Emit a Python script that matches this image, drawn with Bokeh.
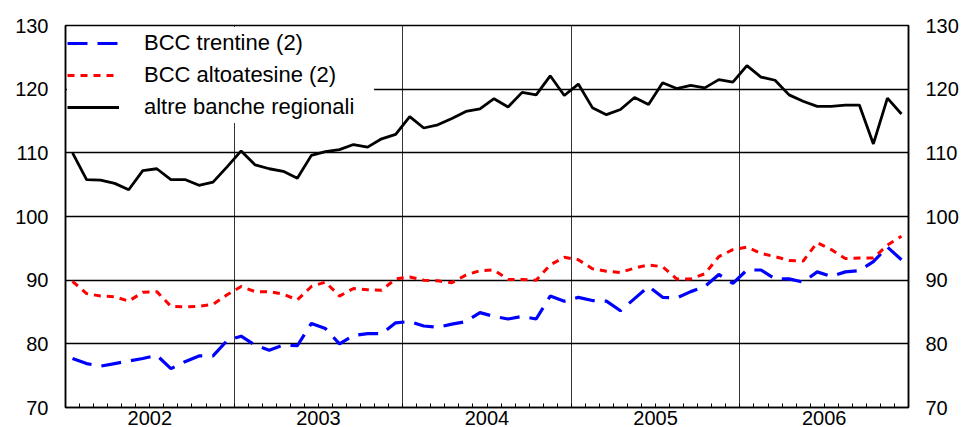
import numpy as np
from bokeh.plotting import figure
from bokeh.models import LinearAxis, FixedTicker, Legend, LegendItem, Range1d
from bokeh.embed import file_html
from bokeh.resources import INLINE

years = ["2002", "2003", "2004", "2005", "2006"]
y_ticks = [70, 80, 90, 100, 110, 120, 130]

bcc_trentine = [77.7, 76.9, 76.5, 76.9, 77.3, 77.7, 78.2, 76.1, 77.2, 78.1, 78.1, 80.5,
                81.2, 79.8, 79.0, 79.8, 79.7, 83.2, 82.4, 80.0, 81.3, 81.6, 81.6, 83.3,
                83.5, 82.8, 82.6, 83.1, 83.5, 84.9, 84.3, 83.9, 84.3, 83.9, 87.5, 86.7,
                87.3, 86.8, 86.7, 85.2, 87.1, 89.0, 87.3, 87.2, 88.2, 89.0, 90.9, 89.5,
                91.6, 91.6, 90.2, 90.2, 89.7, 91.3, 90.6, 91.3, 91.5, 92.9, 95.2, 93.2]

bcc_altoatesine = [89.8, 87.9, 87.5, 87.4, 86.7, 88.1, 88.2, 85.9, 85.8, 85.9, 86.2, 87.7,
                   89.0, 88.2, 88.2, 87.8, 86.9, 89.0, 89.7, 87.5, 88.7, 88.5, 88.4, 90.2,
                   90.5, 90.0, 89.9, 89.6, 90.8, 91.5, 91.6, 90.1, 90.1, 90.0, 92.4, 93.6,
                   93.2, 91.8, 91.4, 91.2, 91.9, 92.4, 92.1, 90.2, 90.2, 91.0, 93.7, 94.8,
                   95.2, 94.2, 93.7, 93.1, 93.0, 95.9, 94.8, 93.4, 93.5, 93.5, 95.5, 96.9]

altre_banche = [110.0, 105.8, 105.7, 105.2, 104.2, 107.2, 107.5, 105.8, 105.8, 104.9, 105.4, 107.8,
                110.3, 108.1, 107.5, 107.1, 106.0, 109.6, 110.2, 110.5, 111.3, 110.9, 112.2, 112.9,
                115.7, 113.9, 114.4, 115.4, 116.5, 116.9, 118.5, 117.2, 119.5, 119.1, 122.1, 119.0,
                120.8, 117.1, 116.0, 116.8, 118.7, 117.6, 121.0, 120.1, 120.6, 120.2, 121.5, 121.1,
                123.7, 121.9, 121.4, 119.1, 118.1, 117.3, 117.3, 117.5, 117.5, 111.4, 118.6, 116.1]

n_months = len(altre_banche)
x = np.arange(n_months) + 0.5  # mid-month positions

FONT = "Liberation Sans"

p = figure(width=967, height=427, x_range=Range1d(0, n_months), y_range=Range1d(70, 130),
           output_backend="svg", toolbar_location=None,
           min_border_left=65, min_border_right=59, min_border_top=25, min_border_bottom=0,
           background_fill_color="white", border_fill_color="white")

p.outline_line_color = "black"
p.outline_line_width = 1.5

# x axis: year labels centred on each year, monthly minor ticks
year_centres = [12 * i + 6 for i in range(len(years))]
xa = p.xaxis[0]
xa.ticker = FixedTicker(ticks=year_centres, minor_ticks=list(range(0, n_months + 1)))
xa.major_label_overrides = {c: y for c, y in zip(year_centres, years)}
xa.major_tick_in = 0
xa.major_tick_out = 0
xa.minor_tick_in = 4
xa.minor_tick_out = 0
xa.minor_tick_line_color = "black"
xa.axis_line_color = "black"
xa.axis_line_width = 1.5
xa.major_label_standoff = 3
xa.major_label_text_font = FONT
xa.major_label_text_font_size = "20px"
xa.major_label_text_color = "black"

# y axes
ya = p.yaxis[0]
ya.ticker = FixedTicker(ticks=y_ticks)
ya.major_tick_in = 4
ya.major_tick_out = 0
ya.minor_tick_line_color = None
ya.axis_line_color = "black"
ya.axis_line_width = 1.5
ya.major_label_standoff = 17
ya.major_label_text_font = FONT
ya.major_label_text_font_size = "20px"
ya.major_label_text_color = "black"

ra = LinearAxis(ticker=FixedTicker(ticks=y_ticks))
ra.major_tick_in = 0
ra.major_tick_out = 0
ra.minor_tick_line_color = None
ra.axis_line_color = "black"
ra.axis_line_width = 1.5
ra.major_label_standoff = 17
ra.major_label_text_font = FONT
ra.major_label_text_font_size = "20px"
ra.major_label_text_color = "black"
p.add_layout(ra, "right")

# grids
p.ygrid.ticker = FixedTicker(ticks=[80, 90, 100, 110, 120])
p.ygrid.grid_line_color = "black"
p.ygrid.grid_line_width = 1.3
p.xgrid.ticker = FixedTicker(ticks=[12, 24, 36, 48])
p.xgrid.grid_line_color = "#333333"
p.xgrid.grid_line_width = 1

r_tn = p.line(x, bcc_trentine, line_color="#0000FF", line_width=3.2, line_dash="20 10")
r_aa = p.line(x, bcc_altoatesine, line_color="#FF0000", line_width=3, line_dash="7 6")
r_ab = p.line(x, altre_banche, line_color="black", line_width=2.8)

legend = Legend(items=[LegendItem(label="BCC trentine (2)", renderers=[r_tn]),
                       LegendItem(label="BCC altoatesine (2)", renderers=[r_aa]),
                       LegendItem(label="altre banche regionali", renderers=[r_ab])],
                location="top_left", padding=2, margin=2, spacing=0,
                label_height=32, glyph_height=32, glyph_width=52, label_standoff=25,
                label_width=230,
                label_text_font=FONT, label_text_font_size="22px", label_text_color="black",
                border_line_color=None, background_fill_color="white", background_fill_alpha=1.0)
p.add_layout(legend)

open("out.html", "w").write(file_html(p, INLINE))
